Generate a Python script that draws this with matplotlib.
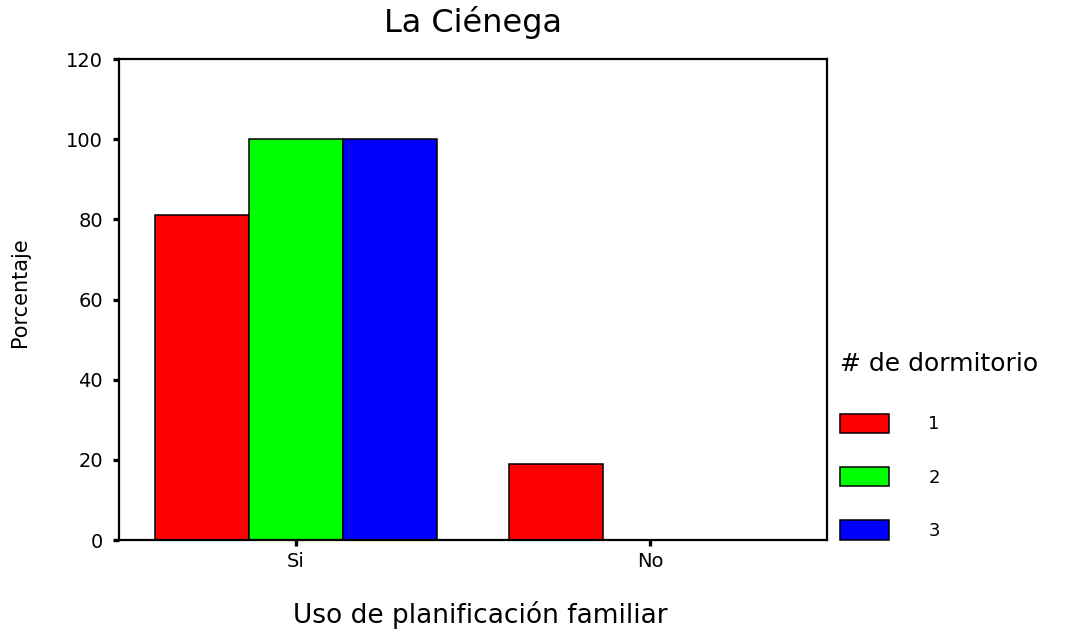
"""
    La Ciénega - uso de planificación familiar por # de dormitorio
"""

import numpy as np
import matplotlib.pyplot as plt

categories = ['Si', 'No']
series_labels = ['1', '2', '3']
series_values = [
    [81.0, 19.0],   # 1 dormitorio
    [100.0, 0.0],   # 2 dormitorios
    [100.0, 0.0],   # 3 dormitorios
]
colors = ['#ff0000', '#00ff00', '#0000ff']
y_ticks = [0, 20, 40, 60, 80, 100, 120]


def main():
    fig = plt.figure(figsize=(10.73, 6.36), dpi=100)
    ax = fig.add_axes([0.1109, 0.1509, 0.6598, 0.7563])

    x = np.arange(len(categories))
    width = 0.266
    for i, (vals, lab, col) in enumerate(zip(series_values, series_labels, colors)):
        ax.bar(x + (i - 1) * width, vals, width, color=col, edgecolor='black',
               linewidth=1.1, label=lab)

    ax.set_xlim(-0.5, 1.5)
    ax.set_ylim(0, 120)
    ax.set_yticks(y_ticks)
    ax.set_xticks(x)
    ax.set_xticklabels(categories)

    for sp in ax.spines.values():
        sp.set_linewidth(1.6)
    ax.tick_params(axis='y', direction='out', length=4.5, width=2.4, pad=7,
                   labelsize=14)
    ax.tick_params(axis='x', direction='out', length=4.5, width=2.4, pad=4,
                   labelsize=14)

    ax.set_title('La Ciénega', fontsize=23, pad=0, y=1.057, va='baseline')
    ax.set_xlabel('Uso de planificación familiar', fontsize=19, va='baseline')
    ax.xaxis.set_label_coords(0.51, -0.1726)
    ax.set_ylabel('Porcentaje', fontsize=15, va='center')
    ax.yaxis.set_label_coords(-0.14, 0.516)

    leg = ax.legend(loc='upper left', bbox_to_anchor=(840 / 1073, 1 - 352 / 636),
                    bbox_transform=fig.transFigure, frameon=False,
                    title='# de dormitorio', title_fontsize=18, fontsize=13,
                    handlelength=2.7, handleheight=1.3, labelspacing=1.85,
                    handletextpad=2.2, borderpad=0, borderaxespad=0,
                    alignment='left')
    leg._legend_box.sep = 27

    fig.savefig('out.png', dpi=100)


if __name__ == '__main__':
    main()
